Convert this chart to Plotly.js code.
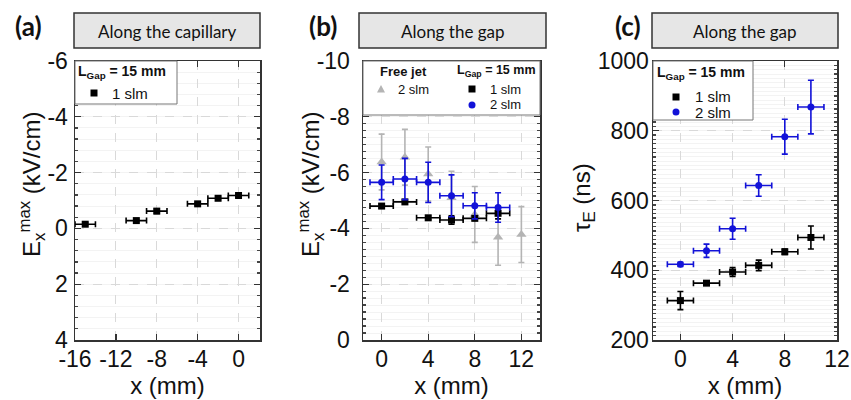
<!DOCTYPE html>
<html><head><meta charset="utf-8">
<script src="https://cdn.plot.ly/plotly-3.0.1.min.js"></script>
<style>html,body{margin:0;padding:0;background:#fff}</style>
</head><body><div id="chart" style="width:851px;height:400px"></div>
<script>
// Panel (a): along the capillary
const xA = [-15, -10, -8, -4, -2, 0];
const xA_err = [1, 1, 1, 1, 1, 1];
const eA_1slm = [-0.15, -0.28, -0.62, -0.88, -1.08, -1.18];
const eA_1slm_err = [0.05, 0.05, 0.08, 0.05, 0.05, 0.05];

// Panel (b): along the gap
const xB = [0, 2, 4, 6, 8, 10];
const xB_err = [1, 1, 1, 1, 1, 1];
const eB_1slm = [-4.80, -4.95, -4.38, -4.30, -4.36, -4.54];
const eB_1slm_err = [0.07, 0.07, 0.07, 0.15, 0.07, 0.2];
const eB_2slm = [-5.65, -5.77, -5.65, -5.17, -4.81, -4.75];
const eB_2slm_err = [0.62, 0.74, 0.72, 0.75, 0.47, 0.53];
const xB_free = [0, 2, 4, 6, 8, 10, 12];
const eB_free = [-6.38, -6.55, -5.95, -5.10, -4.50, -3.68, -3.78];
const eB_free_err = [1.0, 1.0, 0.97, 0.95, 1.0, 1.0, 1.0];

// Panel (c): decay time along the gap
const xC = [0, 2, 4, 6, 8, 10];
const xC_err = [1, 1, 1, 1, 1, 1];
const tau_1slm = [313, 363, 395, 414, 453, 494];
const tau_1slm_err = [26, 5, 13, 15, 8, 33];
const tau_2slm = [417, 456, 519, 643, 783, 868];
const tau_2slm_err = [6, 19, 30, 31, 50, 77];

// Tick values and labels
const xTickValsA = [-16, -12, -8, -4, 0];
const xTickTextA = ['-16', '-12', '-8', '-4', '0'];
const yTickValsA = [-6, -4, -2, 0, 2, 4];
const yTickTextA = ['-6', '-4', '-2', '0', '2', '4'];
const xTickValsBC = [0, 4, 8, 12];
const xTickTextBC = ['0', '4', '8', '12'];
const yTickValsB = [-10, -8, -6, -4, -2, 0];
const yTickTextB = ['-10', '-8', '-6', '-4', '-2', '0'];
const yTickValsC = [200, 400, 600, 800, 1000];
const yTickTextC = ['200', '400', '600', '800', '1000'];

const W = 851, H = 400;
const px = v => v / W;
const py = v => 1 - v / H;

const BLACK = '#000000';
const BLUE = '#1212d8';
const GRAY = '#b4b4b4';
const FONT = 'Liberation Sans';

function errs(arr, color) {
  return {type: 'data', array: arr, visible: true, color: color, thickness: 1.6, width: 3};
}

const traces = [
  {x: xA, y: eA_1slm, xaxis: 'x', yaxis: 'y', type: 'scatter', mode: 'markers', name: '1 slm',
   marker: {symbol: 'square', size: 7, color: BLACK},
   error_x: errs(xA_err, BLACK), error_y: errs(eA_1slm_err, BLACK)},

  {x: xB_free, y: eB_free, xaxis: 'x2', yaxis: 'y2', type: 'scatter', mode: 'markers', name: 'Free jet 2 slm',
   marker: {symbol: 'triangle-up', size: 9, color: GRAY},
   error_y: errs(eB_free_err, GRAY)},
  {x: xB, y: eB_1slm, xaxis: 'x2', yaxis: 'y2', type: 'scatter', mode: 'markers', name: '1 slm',
   marker: {symbol: 'square', size: 7, color: BLACK},
   error_x: errs(xB_err, BLACK), error_y: errs(eB_1slm_err, BLACK)},
  {x: xB, y: eB_2slm, xaxis: 'x2', yaxis: 'y2', type: 'scatter', mode: 'markers', name: '2 slm',
   marker: {symbol: 'circle', size: 7, color: BLUE},
   error_x: errs(xB_err, BLUE), error_y: errs(eB_2slm_err, BLUE)},

  {x: xC, y: tau_1slm, xaxis: 'x3', yaxis: 'y3', type: 'scatter', mode: 'markers', name: '1 slm',
   marker: {symbol: 'square', size: 7, color: BLACK},
   error_x: errs(xC_err, BLACK), error_y: errs(tau_1slm_err, BLACK)},
  {x: xC, y: tau_2slm, xaxis: 'x3', yaxis: 'y3', type: 'scatter', mode: 'markers', name: '2 slm',
   marker: {symbol: 'circle', size: 7, color: BLUE},
   error_x: errs(xC_err, BLUE), error_y: errs(tau_2slm_err, BLUE)}
];

const tickFont = {family: FONT, size: 23, color: '#111'};
const titleFont = {family: FONT, size: 24, color: '#111'};

function xax(domain, range, tickvals, ticktext, anchor) {
  return {
    domain: domain, range: range, tickmode: 'array', tickvals: tickvals, ticktext: ticktext, anchor: anchor,
    showline: true, mirror: 'ticks', linecolor: '#333', linewidth: 1.5,
    ticks: 'inside', ticklen: 6, tickcolor: '#333', tickwidth: 1.3,
    showgrid: true, gridcolor: '#d9d9d9', griddash: 'dash', gridwidth: 1,
    zeroline: false, automargin: false, tickfont: tickFont, ticklabelstandoff: -2,
    title: {text: 'x (mm)', font: titleFont, standoff: 0}
  };
}
function yax(range, tickvals, ticktext, minorDtick, anchor, labelStandoff) {
  return {
    domain: [py(340), py(61)], range: range, tickmode: 'array', tickvals: tickvals, ticktext: ticktext, anchor: anchor,
    showline: true, mirror: 'ticks', linecolor: '#333', linewidth: 1.5,
    ticks: 'inside', ticklen: 6, tickcolor: '#333', tickwidth: 1.3,
    showgrid: true, gridcolor: '#d9d9d9', griddash: 'dash', gridwidth: 1,
    minor: {dtick: minorDtick, ticks: 'inside', ticklen: 3, tickcolor: '#444', showgrid: true, gridcolor: '#f3f3f3', gridwidth: 1, griddash: 'solid'},
    zeroline: false, automargin: false, tickfont: tickFont, ticklabelstandoff: labelStandoff
  };
}

const headerBoxes = [[74, 260, 'Along the capillary'], [359, 546, 'Along the gap'], [652, 838, 'Along the gap']];
const panelLabels = [[29, '(a)'], [323, '(b)'], [628, '(c)']];
// y-axis titles: [centre x, centre y, text]
const yTitles = [
  [32, 185, 'E<sub>x</sub><sup>max</sup> (kV/cm)'],
  [311, 185, 'E<sub>x</sub><sup>max</sup> (kV/cm)'],
  [583, 198, 'τ<sub>E</sub> (ns)']
];

const shapes = headerBoxes.map(b => ({
  type: 'rect', xref: 'paper', yref: 'paper', x0: px(b[0]), x1: px(b[1]), y0: py(48), y1: py(13),
  fillcolor: '#e6e6e6', line: {color: '#333', width: 1.5}, layer: 'above'
}));

// legend boxes [x0, x1, y0(top), y1(bottom)]
const legendBoxes = [[75, 177, 61, 104], [363, 540, 61, 115], [653, 753, 61, 120]];
legendBoxes.forEach(b => shapes.push({type: 'rect', xref: 'paper', yref: 'paper',
  x0: px(b[0]), x1: px(b[1]), y0: py(b[3]), y1: py(b[2]),
  fillcolor: '#ffffff', line: {color: '#777', width: 1}, layer: 'above'}));

// legend keys: [type, cx, cy, color]
const legendKeys = [
  ['square', 94, 93, BLACK],
  ['triangle', 381, 89, GRAY],
  ['square', 472, 89, BLACK],
  ['circle', 472, 105, BLUE],
  ['square', 676, 97, BLACK],
  ['circle', 676, 112, BLUE]
];
legendKeys.forEach(k => {
  const [t, cx, cy, c] = k;
  if (t === 'square') {
    shapes.push({type: 'rect', xref: 'paper', yref: 'paper', x0: px(cx - 3.5), x1: px(cx + 3.5), y0: py(cy + 3.5), y1: py(cy - 3.5),
      fillcolor: c, line: {width: 0}, layer: 'above'});
  } else if (t === 'circle') {
    shapes.push({type: 'circle', xref: 'paper', yref: 'paper', x0: px(cx - 3.5), x1: px(cx + 3.5), y0: py(cy + 3.5), y1: py(cy - 3.5),
      fillcolor: c, line: {width: 0}, layer: 'above'});
  } else {
    shapes.push({type: 'path', xref: 'paper', yref: 'paper',
      path: `M ${px(cx - 4)} ${py(cy + 3.5)} L ${px(cx + 4)} ${py(cy + 3.5)} L ${px(cx)} ${py(cy - 4)} Z`,
      fillcolor: c, line: {width: 0}, layer: 'above'});
  }
});

const annotations = headerBoxes.map(b => ({
  xref: 'paper', yref: 'paper', x: px((b[0] + b[1]) / 2), y: py(31), xanchor: 'center', yanchor: 'middle',
  text: b[2], showarrow: false, font: {family: 'Lato, Open Sans, sans-serif', size: 17, color: '#111'}
})).concat(panelLabels.map(p => ({
  xref: 'paper', yref: 'paper', x: px(p[0]), y: py(26), xanchor: 'center', yanchor: 'middle',
  text: '<b>' + p[1] + '</b>', showarrow: false, font: {family: 'Lato, Open Sans, sans-serif', size: 26, color: '#111'}
}))).concat(yTitles.map(t => ({
  xref: 'paper', yref: 'paper', x: px(t[0]), y: py(t[1]), xanchor: 'center', yanchor: 'middle',
  text: t[2], textangle: -90, showarrow: false, font: {family: FONT, size: 24, color: '#111'}
})));

// legend texts: [x(left), cy, text, bold, size]
const legendTexts = [
  [77, 72, 'L<sub>Gap</sub> = 15 mm', true, 14],
  [111, 93, '1 slm', false, 15],
  [379, 71, 'Free jet', true, 13],
  [397, 89, '2 slm', false, 13],
  [456, 71, 'L<sub>Gap</sub> = 15 mm', true, 12.5],
  [489, 89, '1 slm', false, 13],
  [489, 105, '2 slm', false, 13],
  [656, 73, 'L<sub>Gap</sub> = 15 mm', true, 14],
  [694, 97, '1 slm', false, 15],
  [694, 112, '2 slm', false, 15]
];
legendTexts.forEach(t => annotations.push({
  xref: 'paper', yref: 'paper', x: px(t[0]), y: py(t[1]), xanchor: 'left', yanchor: 'middle',
  text: t[3] ? '<b>' + t[2] + '</b>' : t[2], showarrow: false, borderpad: 0,
  font: {family: FONT, size: t[4], color: '#111'}
}));

const layout = {
  width: W, height: H, margin: {l: 0, r: 0, t: 0, b: 0},
  paper_bgcolor: '#fff', plot_bgcolor: '#fff',
  showlegend: false,
  xaxis: xax([px(75), px(260)], [-16, 2.1], xTickValsA, xTickTextA, 'y'),
  yaxis: yax([4, -6], yTickValsA, yTickTextA, 0.4, 'x', 1),
  xaxis2: xax([px(363), px(540)], [-1.6, 13.6], xTickValsBC, xTickTextBC, 'y2'),
  yaxis2: yax([0, -10], yTickValsB, yTickTextB, 0.25, 'x2', 7),
  xaxis3: xax([px(653), px(837)], [-2.1, 12], xTickValsBC, xTickTextBC, 'y3'),
  yaxis3: yax([200, 1000], yTickValsC, yTickTextC, 12.5, 'x3', -2),
  shapes: shapes,
  annotations: annotations
};

Plotly.newPlot('chart', traces, layout, {displayModeBar: false, staticPlot: true});
</script>
</body></html>
